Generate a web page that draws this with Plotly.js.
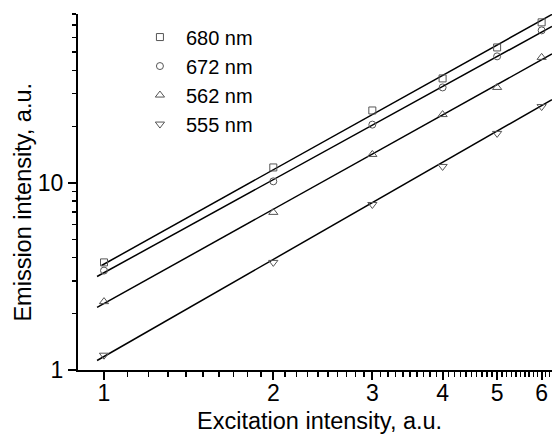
<!DOCTYPE html>
<html><head><meta charset="utf-8">
<script src="https://cdn.plot.ly/plotly-3.0.1.min.js"></script>
<style>html,body{margin:0;padding:0;background:#fff}#chart{width:552px;height:437px}</style>
</head><body><div id="chart"></div>
<script>
// Data
const excitation = [1, 2, 3, 4, 5, 6];
const em680 = [3.76, 12.1, 24.4, 36.2, 53.0, 72.2];
const em672 = [3.40, 10.2, 20.5, 32.4, 47.5, 65.4];
const em562 = [2.32, 6.96, 14.2, 23.2, 32.4, 46.9];
const em555 = [1.20, 3.76, 7.67, 12.25, 18.4, 25.6];

// Fitted straight lines (log-log), endpoints
const fitX680 = [0.99, 6.26];
const fitY680 = [3.62, 79.6];
const fitX672 = [0.972, 6.26];
const fitY672 = [3.16, 68.7];
const fitX562 = [0.972, 6.26];
const fitY562 = [2.16, 48.9];
const fitX555 = [0.972, 6.26];
const fitY555 = [1.124, 27.9];

const seriesNames = ['680 nm', '672 nm', '562 nm', '555 nm'];
const xTickVals = [1, 2, 3, 4, 5, 6];
const xTickText = ['1', '2', '3', '4', '5', '6'];
const xMinorVals = [1.1,1.2,1.3,1.4,1.5,1.6,1.7,1.8,1.9,
                    2.1,2.2,2.3,2.4,2.5,2.6,2.7,2.8,2.9,
                    3.1,3.2,3.3,3.4,3.5,3.6,3.7,3.8,3.9,
                    4.1,4.2,4.3,4.4,4.5,4.6,4.7,4.8,4.9,
                    5.1,5.2,5.3,5.4,5.5,5.6,5.7,5.8,5.9,
                    6.1,6.2];
const yTickVals = [1, 10];
const yTickText = ['1', '10'];
const yMinorVals = [2,3,4,5,6,7,8,9,20,30,40,50,60,70,80];

const FONT = 'Liberation Sans, Arial, sans-serif';
const markerColor = 'rgb(85,85,85)';

function pts(y, name, symbol, size) {
  return {x: excitation, y: y, name: name, mode: 'markers', type: 'scatter',
    marker: {symbol: symbol, size: size, color: markerColor,
             line: {color: markerColor, width: 1}}};
}
function fit(x, y) {
  return {x: x, y: y, mode: 'lines', type: 'scatter', showlegend: false,
    hoverinfo: 'skip', line: {color: '#000', width: 1.5}};
}

const data = [
  fit(fitX680, fitY680), fit(fitX672, fitY672), fit(fitX562, fitY562), fit(fitX555, fitY555),
  pts(em680, seriesNames[0], 'square-open', 7),
  pts(em672, seriesNames[1], 'circle-open', 7),
  pts(em562, seriesNames[2], 'triangle-up-open', 8),
  pts(em555, seriesNames[3], 'triangle-down-open', 8)
];

const axisCommon = {
  showgrid: false, showline: true, linewidth: 2, linecolor: '#000',
  ticks: 'outside', ticklen: 8, tickwidth: 2, tickcolor: '#000',
  tickfont: {family: FONT, size: 23, color: '#000'}, mirror: false
};

const layout = {
  width: 552, height: 437,
  margin: {l: 78, r: 0, t: 14, b: 67, pad: 0},
  paper_bgcolor: '#fff', plot_bgcolor: '#fff',
  font: {family: FONT, color: '#000'},
  showlegend: true,
  legend: {x: 0.118, y: 0.99, xanchor: 'left', yanchor: 'top',
    font: {family: FONT, size: 20, color: '#000'}, itemwidth: 42,
    bgcolor: 'rgba(0,0,0,0)', borderwidth: 0},
  xaxis: Object.assign({}, axisCommon, {
    type: 'log', range: [Math.log10(0.899), Math.log10(6.26)],
    tickmode: 'array', tickvals: xTickVals, ticktext: xTickText,
    ticklabelstandoff: -7,
    minor: {tickmode: 'array', tickvals: xMinorVals, ticks: 'outside', ticklen: 5, tickwidth: 1.5, tickcolor: '#000', showgrid: false}
  }),
  yaxis: Object.assign({}, axisCommon, {
    type: 'log', range: [0, Math.log10(80)],
    tickmode: 'array', tickvals: yTickVals, ticktext: yTickText,
    minor: {tickmode: 'array', tickvals: yMinorVals, ticks: 'outside', ticklen: 4, tickwidth: 1.5, tickcolor: '#000', showgrid: false}
  }),
  annotations: [
    {text: 'Excitation intensity, a.u.', xref: 'paper', yref: 'paper',
     x: 0.5105, y: -0.142, xanchor: 'center', yanchor: 'middle', showarrow: false,
     font: {family: FONT, size: 23.5, color: '#000'}},
    {text: 'Emission intensity, a.u.', xref: 'paper', yref: 'paper',
     x: -0.118, y: 0.4705, xanchor: 'center', yanchor: 'middle', showarrow: false,
     textangle: -90, font: {family: FONT, size: 23.5, color: '#000'}}
  ]
};

Plotly.newPlot('chart', data, layout, {displayModeBar: false, staticPlot: true});
</script>
</body></html>
